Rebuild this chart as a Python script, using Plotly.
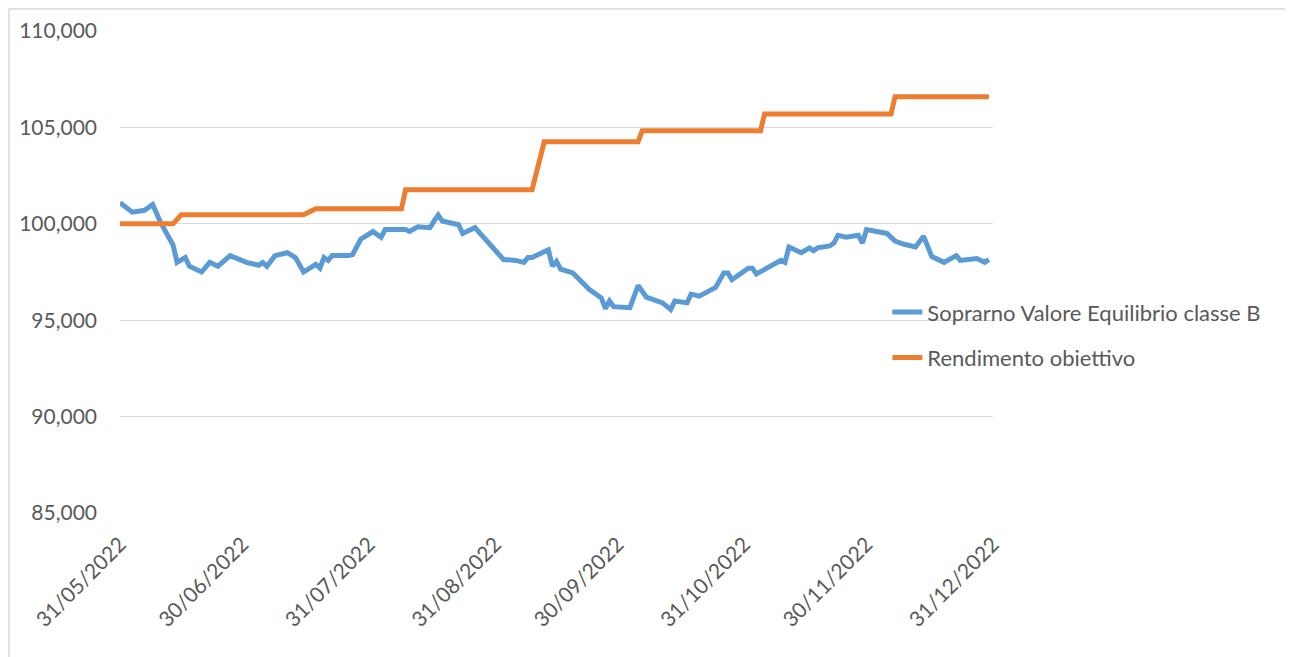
import plotly.graph_objects as go

dates_b = [
    "2022-05-31", "2022-06-03", "2022-06-06", "2022-06-08", "2022-06-10",
    "2022-06-13", "2022-06-14", "2022-06-16", "2022-06-17", "2022-06-20",
    "2022-06-22", "2022-06-24", "2022-06-27", "2022-07-01", "2022-07-04",
    "2022-07-05", "2022-07-06", "2022-07-08", "2022-07-11", "2022-07-13",
    "2022-07-15", "2022-07-18", "2022-07-19", "2022-07-20", "2022-07-21",
    "2022-07-22", "2022-07-26", "2022-07-27", "2022-07-29", "2022-08-01",
    "2022-08-03", "2022-08-04", "2022-08-09", "2022-08-10", "2022-08-12",
    "2022-08-15", "2022-08-16", "2022-08-17", "2022-08-18", "2022-08-22",
    "2022-08-23", "2022-08-26", "2022-09-02", "2022-09-05", "2022-09-07",
    "2022-09-08", "2022-09-09", "2022-09-13", "2022-09-14", "2022-09-15",
    "2022-09-16", "2022-09-19", "2022-09-23", "2022-09-26", "2022-09-27",
    "2022-09-28", "2022-09-29", "2022-10-03", "2022-10-05", "2022-10-07",
    "2022-10-11", "2022-10-13", "2022-10-14", "2022-10-17", "2022-10-18",
    "2022-10-20", "2022-10-24", "2022-10-26", "2022-10-27", "2022-10-28",
    "2022-11-01", "2022-11-02", "2022-11-03", "2022-11-09", "2022-11-10",
    "2022-11-11", "2022-11-14", "2022-11-16", "2022-11-17", "2022-11-18",
    "2022-11-21", "2022-11-22", "2022-11-23", "2022-11-25", "2022-11-28",
    "2022-11-29", "2022-11-30", "2022-12-02", "2022-12-05", "2022-12-07",
    "2022-12-09", "2022-12-12", "2022-12-14", "2022-12-16", "2022-12-19",
    "2022-12-22", "2022-12-23", "2022-12-27", "2022-12-29", "2022-12-30",
]
values_b = [
    101.1, 100.6, 100.7, 101.0, 100.05,
    98.9, 98.0, 98.25, 97.8, 97.5,
    98.0, 97.8, 98.35, 98.0, 97.85,
    98.0, 97.8, 98.35, 98.5, 98.25,
    97.5, 97.9, 97.7, 98.25, 98.1,
    98.35, 98.35, 98.4, 99.2, 99.6,
    99.3, 99.7, 99.7, 99.6, 99.85,
    99.8, 100.15, 100.45, 100.15, 99.95,
    99.5, 99.8, 98.15, 98.1, 98.0,
    98.25, 98.25, 98.65, 97.8, 98.05,
    97.65, 97.45, 96.6, 96.15, 95.6,
    96.0, 95.7, 95.65, 96.8, 96.2,
    95.9, 95.55, 96.0, 95.9, 96.35,
    96.25, 96.7, 97.45, 97.45, 97.1,
    97.7, 97.7, 97.4, 98.1, 98.0,
    98.8, 98.5, 98.75, 98.6, 98.75,
    98.85, 99.0, 99.4, 99.3, 99.4,
    99.0, 99.7, 99.6, 99.5, 99.1,
    98.95, 98.8, 99.35, 98.3, 98.0,
    98.35, 98.1, 98.2, 98.0, 98.15,
]
assert len(dates_b) == len(values_b)

dates_o = ["2022-05-31", "2022-06-13", "2022-06-15", "2022-07-15", "2022-07-18",
           "2022-08-08", "2022-08-09", "2022-09-09", "2022-09-12", "2022-10-05",
           "2022-10-06", "2022-11-04", "2022-11-05", "2022-12-06", "2022-12-07",
           "2022-12-30"]
values_o = [100.0, 100.0, 100.47, 100.47, 100.78,
            100.78, 101.76, 101.76, 104.25, 104.25,
            104.82, 104.82, 105.7, 105.7, 106.59,
            106.59]
assert len(dates_o) == len(values_o)

tick_dates = ["2022-05-31", "2022-06-30", "2022-07-31", "2022-08-31",
              "2022-09-30", "2022-10-31", "2022-11-30", "2022-12-31"]
tick_labels = ["31/05/2022", "30/06/2022", "31/07/2022", "31/08/2022",
               "30/09/2022", "31/10/2022", "30/11/2022", "31/12/2022"]
y_ticks = [85, 90, 95, 100, 105, 110]
y_labels = ["85,000", "90,000", "95,000", "100,000", "105,000", "110,000"]

name_b = "Soprarno Valore Equilibrio classe B"
name_o = "Rendimento obiettivo"

fig = go.Figure()
fig.add_trace(go.Scatter(x=dates_b, y=values_b, mode="lines", name=name_b,
                         line=dict(color="#5B9BD5", width=5), legendgroup="b"))
fig.add_trace(go.Scatter(x=dates_o, y=values_o, mode="lines", name=name_o,
                         line=dict(color="#ED7D31", width=5), legendgroup="o"))

FONT = "Lato, 'Open Sans', sans-serif"
W, H = 1285, 649
L, T, PW, PH = 112, 23, 873, 482
fig.update_layout(
    width=W, height=H,
    margin=dict(l=L, r=W - L - PW, t=T, b=H - T - PH, autoexpand=False),
    paper_bgcolor="white", plot_bgcolor="white",
    font=dict(family=FONT, size=21, color="#595959"),
    showlegend=True,
    legend=dict(x=0.879, y=0.369, xanchor="left", yanchor="middle",
                font=dict(family=FONT, size=22, color="#595959"),
                tracegroupgap=14, bgcolor="rgba(0,0,0,0)"),
    xaxis=dict(type="date", range=["2022-05-31", "2022-12-31"], automargin=False,
               tickvals=tick_dates, ticktext=tick_labels, tickangle=-45,
               showgrid=False, zeroline=False, showline=False, ticks="",
               ticklabelstandoff=14),
    yaxis=dict(range=[85, 110], tickvals=y_ticks, ticktext=y_labels, automargin=False,
               showgrid=True, gridcolor="#D9D9D9", gridwidth=1, zeroline=False,
               showline=False, ticks="", ticklabelstandoff=22),
)
# outer chart border (light grey frame)
fig.add_shape(type="rect", xref="paper", yref="paper",
              x0=(1 - L) / PW, x1=(1280 - L) / PW,
              y0=-0.35, y1=(T + PH - 1) / PH,
              line=dict(color="#D9D9D9", width=1.5), layer="below")

fig.write_html("out.html")
